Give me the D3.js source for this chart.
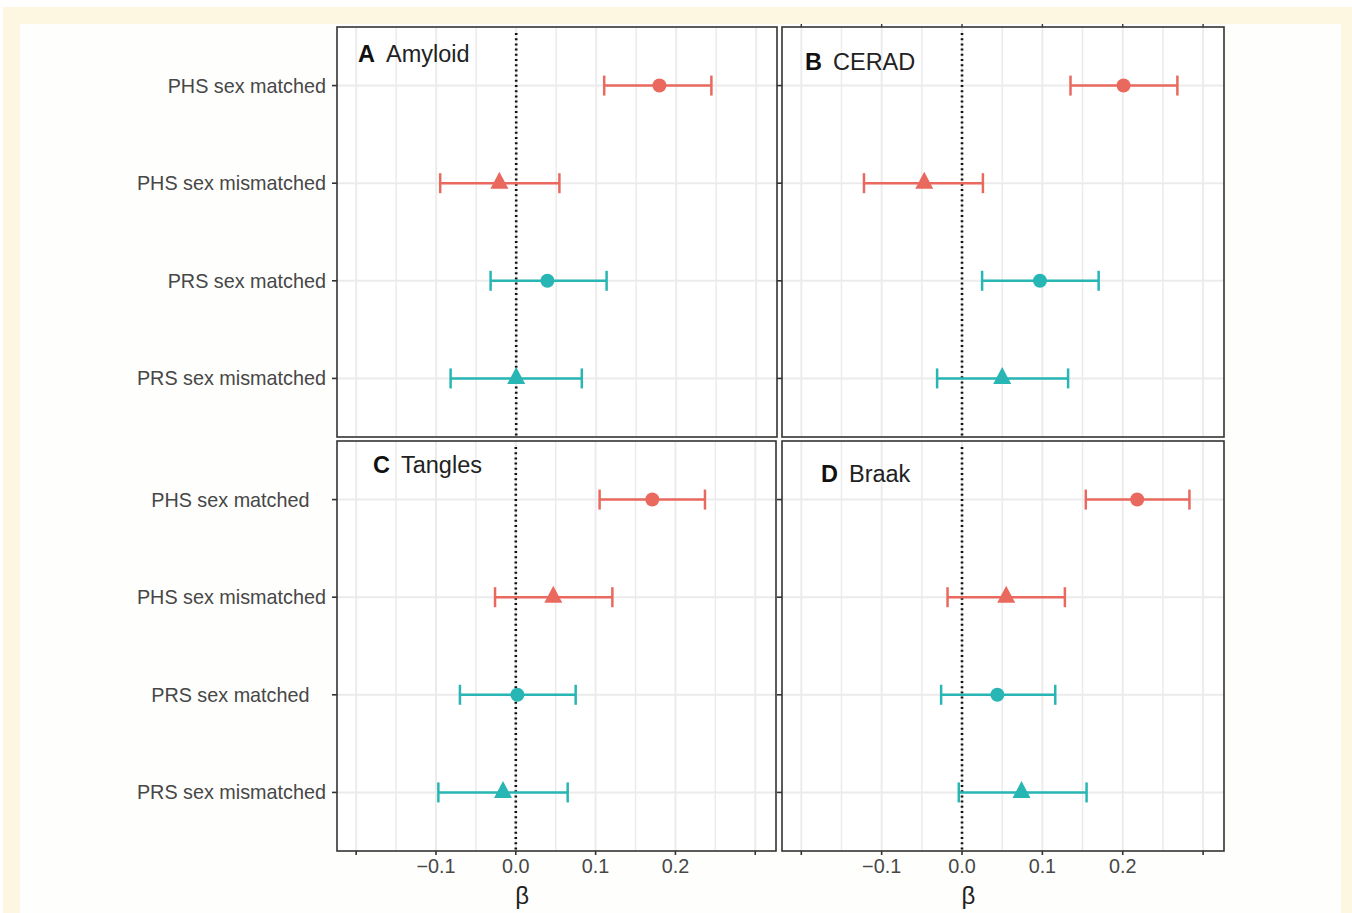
<!DOCTYPE html>
<html>
<head>
<meta charset="utf-8">
<script src="https://cdn.jsdelivr.net/npm/d3@7"></script>
<style>
  html, body { margin: 0; padding: 0; background: #ffffff; }
  svg { display: block; }
  text { font-family: "Liberation Sans", Arial, Helvetica, sans-serif; }
</style>
</head>
<body>
<svg id="chart" width="1352" height="913"></svg>
<script>
// ---------------- data ----------------
const categories = ["PHS sex matched", "PHS sex mismatched", "PRS sex matched", "PRS sex mismatched"];
const categoryLabelsTop = ["PHS sex matched", "PHS sex mismatched", "PRS sex matched", "PRS sex mismatched"];
const categoryLabelsBottom = ["PHS sex matched\u00a0\u00a0\u00a0", "PHS sex mismatched", "PRS sex matched\u00a0\u00a0\u00a0", "PRS sex mismatched"];
const scoreType = ["PHS", "PHS", "PRS", "PRS"];
const matchType = ["matched", "mismatched", "matched", "mismatched"];

const panelLetters = ["A", "B", "C", "D"];
const panelTitles = ["Amyloid", "CERAD", "Tangles", "Braak"];

// beta estimates and 95% CI (per panel, in category order)
const amyloidBeta = [0.179, -0.021, 0.039, 0.000];
const amyloidLow  = [0.110, -0.095, -0.032, -0.082];
const amyloidHigh = [0.244, 0.054, 0.113, 0.082];

const ceradBeta = [0.201, -0.047, 0.097, 0.050];
const ceradLow  = [0.135, -0.122, 0.025, -0.031];
const ceradHigh = [0.268, 0.026, 0.170, 0.132];

const tanglesBeta = [0.171, 0.047, 0.002, -0.016];
const tanglesLow  = [0.105, -0.026, -0.070, -0.097];
const tanglesHigh = [0.237, 0.121, 0.075, 0.065];

const braakBeta = [0.218, 0.055, 0.044, 0.074];
const braakLow  = [0.154, -0.018, -0.026, -0.004];
const braakHigh = [0.283, 0.128, 0.116, 0.155];

const xMajorBreaks = [-0.2, -0.1, 0.0, 0.1, 0.2, 0.3];
const xMinorBreaks = [-0.15, -0.05, 0.05, 0.15, 0.25];
const xTickLabels  = ["", "\u22120.1", "0.0", "0.1", "0.2", ""];
const xDomain = [-0.224, 0.326];
const xAxisTitle = "\u03b2";

// ---------------- layout ----------------
const layout = [
  { x0: 337, x1: 777, y0: 27,  y1: 437, tx: 358, ty: 62,  labels: categoryLabelsTop,    showY: true,  showX: false },
  { x0: 782, x1: 1224, y0: 27, y1: 437, tx: 805, ty: 70,  labels: null,                 showY: false, showX: false },
  { x0: 337, x1: 776, y0: 441, y1: 851, tx: 373, ty: 473, labels: categoryLabelsBottom, showY: true,  showX: true },
  { x0: 782, x1: 1224, y0: 441, y1: 851, tx: 821, ty: 482, labels: null,                showY: false, showX: true }
];
const series = [
  [amyloidBeta, amyloidLow, amyloidHigh],
  [ceradBeta, ceradLow, ceradHigh],
  [tanglesBeta, tanglesLow, tanglesHigh],
  [braakBeta, braakLow, braakHigh]
];

const colorScale = d3.scaleOrdinal().domain(["PHS", "PRS"]).range(["#e9695f", "#27b6b4"]);
const gridCol = "#ebebeb";
const textCol = "#474747";

const svg = d3.select("#chart");

// page background (journal frame)
svg.append("rect").attr("x", 0).attr("y", 0).attr("width", 1352).attr("height", 913).attr("fill", "#ffffff");
svg.append("rect").attr("x", 3).attr("y", 7).attr("width", 1349).attr("height", 906).attr("fill", "#fdf6e1");
svg.append("rect").attr("x", 20).attr("y", 24).attr("width", 1321).attr("height", 889).attr("fill", "#fefefd");

const circleSym = d3.symbol().type(d3.symbolCircle).size(Math.PI * 7 * 7);
function trianglePath(cx, cy) {
  const w = 18, h = 17;
  // centroid-centred triangle
  return `M${cx},${cy - 2 * h / 3}L${cx + w / 2},${cy + h / 3}L${cx - w / 2},${cy + h / 3}Z`;
}

layout.forEach((L, pi) => {
  const g = svg.append("g");
  const x = d3.scaleLinear().domain(xDomain).range([L.x0, L.x1]);
  const y = d3.scalePoint().domain(categories).range([L.y0, L.y1]).padding(0.6);

  g.append("rect").attr("x", L.x0).attr("y", L.y0).attr("width", L.x1 - L.x0).attr("height", L.y1 - L.y0).attr("fill", "#ffffff");

  // grid
  g.selectAll(".minor").data(xMinorBreaks).enter().append("line")
    .attr("x1", d => x(d)).attr("x2", d => x(d)).attr("y1", L.y0).attr("y2", L.y1)
    .attr("stroke", gridCol).attr("stroke-width", 1.5);
  g.selectAll(".major").data(xMajorBreaks).enter().append("line")
    .attr("x1", d => x(d)).attr("x2", d => x(d)).attr("y1", L.y0).attr("y2", L.y1)
    .attr("stroke", gridCol).attr("stroke-width", 1.9);
  g.selectAll(".hgrid").data(categories).enter().append("line")
    .attr("x1", L.x0).attr("x2", L.x1).attr("y1", d => y(d)).attr("y2", d => y(d))
    .attr("stroke", gridCol).attr("stroke-width", 1.9);

  // zero reference line
  g.append("line").attr("x1", x(0)).attr("x2", x(0)).attr("y1", L.y0 + 6).attr("y2", L.y1)
    .attr("stroke", "#111").attr("stroke-width", 2.6).attr("stroke-dasharray", "2,3.2");

  // error bars and points
  const [beta, lo, hi] = series[pi];
  categories.forEach((c, i) => {
    const col = colorScale(scoreType[i]);
    const yy = y(c);
    g.append("line").attr("x1", x(lo[i])).attr("x2", x(hi[i])).attr("y1", yy).attr("y2", yy)
      .attr("stroke", col).attr("stroke-width", 2.5);
    [lo[i], hi[i]].forEach(v => {
      g.append("line").attr("x1", x(v)).attr("x2", x(v)).attr("y1", yy - 10).attr("y2", yy + 10)
        .attr("stroke", col).attr("stroke-width", 2.5);
    });
    if (matchType[i] === "matched") {
      g.append("path").attr("d", circleSym()).attr("transform", `translate(${x(beta[i])},${yy})`).attr("fill", col);
    } else {
      g.append("path").attr("d", trianglePath(x(beta[i]), yy)).attr("fill", col);
    }
  });

  // border
  g.append("rect").attr("x", L.x0).attr("y", L.y0).attr("width", L.x1 - L.x0).attr("height", L.y1 - L.y0)
    .attr("fill", "none").attr("stroke", "#333333").attr("stroke-width", 1.6);

  // y ticks
  g.selectAll(".ytick").data(categories).enter().append("line")
    .attr("x1", L.x0 - 5).attr("x2", L.x0).attr("y1", d => y(d)).attr("y2", d => y(d))
    .attr("stroke", "#333").attr("stroke-width", 1.6);

  if (L.showY) {
    g.selectAll(".ylab").data(categories).enter().append("text")
      .attr("x", L.x0 - 11).attr("y", d => y(d)).attr("dy", "0.35em")
      .attr("text-anchor", "end").attr("fill", textCol).attr("font-size", 19.8)
      .style("white-space", "pre")
      .text((d, i) => L.labels[i]);
  }

  if (L.showX) {
    g.selectAll(".xtick").data(xMajorBreaks).enter().append("line")
      .attr("x1", d => x(d)).attr("x2", d => x(d)).attr("y1", L.y1).attr("y2", L.y1 + 4)
      .attr("stroke", "#333").attr("stroke-width", 1.6);
    g.selectAll(".xlab").data(xMajorBreaks).enter().append("text")
      .attr("x", d => x(d)).attr("y", L.y1 + 22).attr("text-anchor", "middle")
      .attr("fill", textCol).attr("font-size", 19.8)
      .text((d, i) => xTickLabels[i]);
    g.append("text").attr("x", x(0.008)).attr("y", L.y1 + 53).attr("text-anchor", "middle")
      .attr("fill", "#222").attr("font-size", 24).attr("font-family", "DejaVu Serif, serif")
      .text(xAxisTitle);
  } else if (pi === 1) {
    // small tick marks visible along the top edge of panel B
    g.selectAll(".ttick").data(xMajorBreaks).enter().append("line")
      .attr("x1", d => x(d)).attr("x2", d => x(d)).attr("y1", L.y0 - 3).attr("y2", L.y0)
      .attr("stroke", "#333").attr("stroke-width", 1.4);
  }

  // panel title
  const t = g.append("text").attr("x", L.tx).attr("y", L.ty).attr("font-size", 23.5).attr("fill", "#111");
  t.append("tspan").attr("font-weight", "bold").text(panelLetters[pi]);
  t.append("tspan").attr("dx", 11).attr("fill", "#222").text(panelTitles[pi]);
});
</script>
</body>
</html>
